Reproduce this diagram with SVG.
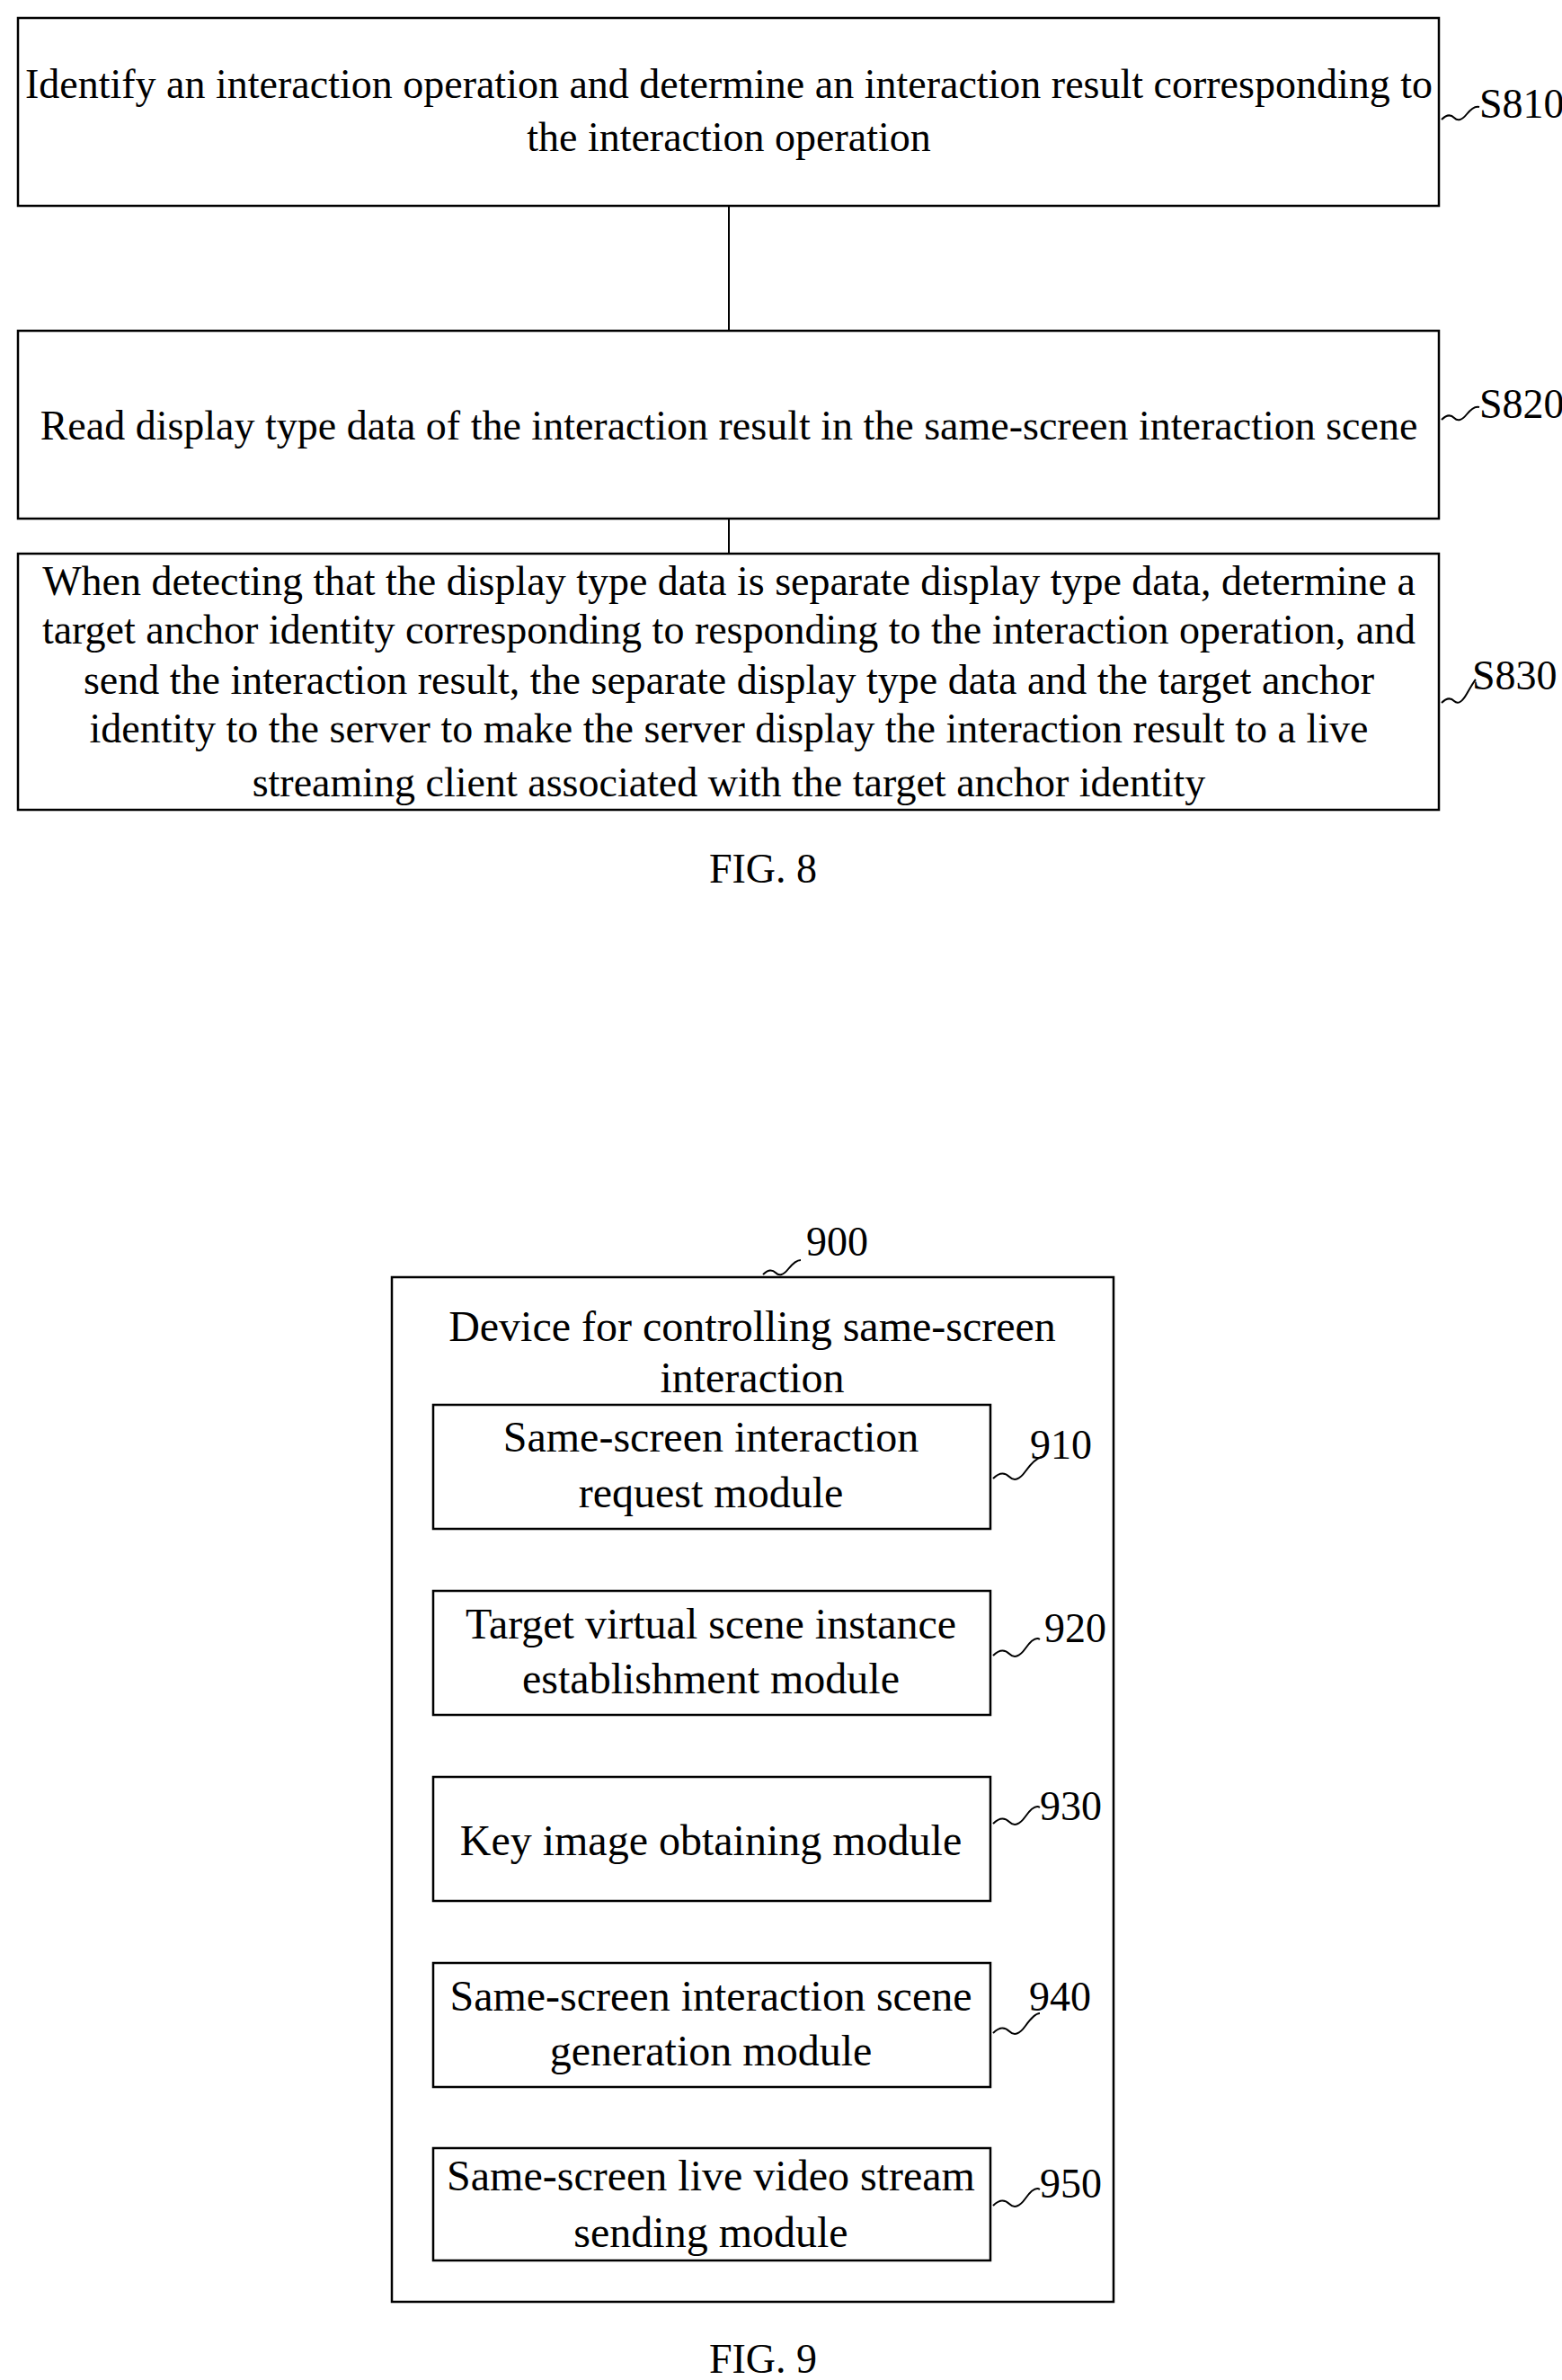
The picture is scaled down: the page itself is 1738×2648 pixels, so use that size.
<svg xmlns="http://www.w3.org/2000/svg" width="1738" height="2648" viewBox="0 0 1738 2648">
<style>
text{font-family:"Liberation Serif",serif;font-size:46px;fill:#000;text-anchor:middle}
.m{font-size:48px}
.b{fill:#fff;stroke:#000;stroke-width:2.5}
.l{fill:none;stroke:#000;stroke-width:2}
.lab{text-anchor:start}
</style>
<rect width="1738" height="2648" fill="#fff"/>
<g id="connectors">
<line class="l" x1="811" y1="229" x2="811" y2="368"/>
<line class="l" x1="811" y1="577" x2="811" y2="616"/>
</g>
<g id="S810">
<rect class="b" x="20" y="20" width="1581" height="209"/>
<text x="811" y="109">Identify an interaction operation and determine an interaction result corresponding to</text>
<text x="811" y="168">the interaction operation</text>
<path class="l" d="M1604 133 q8 -8 14 -2 t14 -4 t14 -8"/>
<text class="lab" x="1646" y="131" font-size="34">S810</text>
</g>
<g id="S820">
<rect class="b" x="20" y="368" width="1581" height="209"/>
<text x="811" y="489">Read display type data of the interaction result in the same-screen interaction scene</text>
<path class="l" d="M1604 467 q8 -8 14 -2 t14 -4 t14 -8"/>
<text class="lab" x="1646" y="465" font-size="34">S820</text>
</g>
<g id="S830">
<rect class="b" x="20" y="616" width="1581" height="285"/>
<text x="811" y="662">When detecting that the display type data is separate display type data, determine a</text>
<text x="811" y="716">target anchor identity corresponding to responding to the interaction operation, and</text>
<text x="811" y="772">send the interaction result, the separate display type data and the target anchor</text>
<text x="811" y="826">identity to the server to make the server display the interaction result to a live</text>
<text x="811" y="886">streaming client associated with the target anchor identity</text>
<path class="l" d="M1604 782 q8 -8 14 -2 t14 -8 t10 -16"/>
<text class="lab" x="1638" y="767" font-size="34">S830</text>
</g>
<text x="849" y="982" font-size="48">FIG. 8</text>
<g id="n900">
<rect class="b" x="436" y="1421" width="803" height="1140"/>
<text class="m" x="837" y="1492">Device for controlling same-screen</text>
<text class="m" x="837" y="1549">interaction</text>
<path class="l" d="M849 1418 q8 -8 14 -2 t14 -4 t14 -10"/>
<text class="lab" x="897" y="1397" font-size="42">900</text>
</g>
<g id="n910">
<rect class="b" x="482" y="1563" width="620" height="138"/>
<text class="m" x="791" y="1615">Same-screen interaction</text>
<text class="m" x="791" y="1677">request module</text>
<path class="l" d="M1105 1645 q10 -10 18 -2 t18 -6 t18 -16"/>
<text class="lab" x="1146" y="1623" font-size="42">910</text>
</g>
<g id="n920">
<rect class="b" x="482" y="1770" width="620" height="138"/>
<text class="m" x="791" y="1823">Target virtual scene instance</text>
<text class="m" x="791" y="1884">establishment module</text>
<path class="l" d="M1105 1842 q10 -10 18 -2 t18 -6 t16 -10"/>
<text class="lab" x="1162" y="1827" font-size="42">920</text>
</g>
<g id="n930">
<rect class="b" x="482" y="1977" width="620" height="138"/>
<text class="m" x="791" y="2064">Key image obtaining module</text>
<path class="l" d="M1105 2029 q10 -10 18 -2 t18 -6 t16 -10"/>
<text class="lab" x="1157" y="2025" font-size="42">930</text>
</g>
<g id="n940">
<rect class="b" x="482" y="2184" width="620" height="138"/>
<text class="m" x="791" y="2237">Same-screen interaction scene</text>
<text class="m" x="791" y="2298">generation module</text>
<path class="l" d="M1105 2262 q10 -10 18 -2 t18 -6 t16 -14"/>
<text class="lab" x="1145" y="2237" font-size="42">940</text>
</g>
<g id="n950">
<rect class="b" x="482" y="2390" width="620" height="125"/>
<text class="m" x="791" y="2437">Same-screen live video stream</text>
<text class="m" x="791" y="2500">sending module</text>
<path class="l" d="M1105 2454 q10 -10 18 -2 t18 -6 t16 -10"/>
<text class="lab" x="1157" y="2445" font-size="42">950</text>
</g>
<text x="849" y="2640" font-size="48">FIG. 9</text>
</svg>
